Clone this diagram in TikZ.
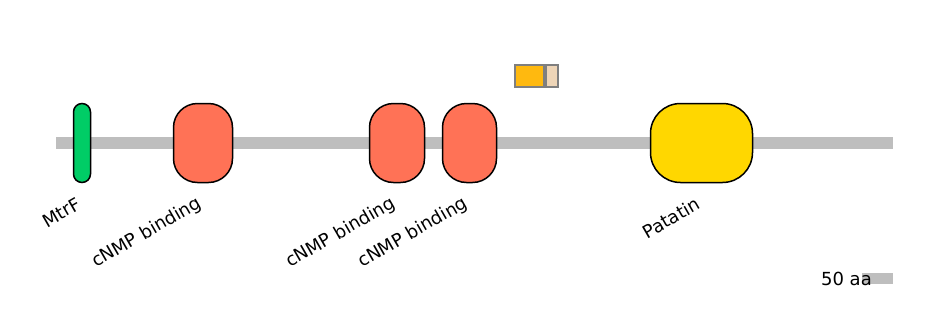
\documentclass[tikz,border=0pt]{standalone}
\usepackage{fontspec}
\setsansfont{DejaVu Sans}
\usepackage{tikz}
\usetikzlibrary{positioning}
\definecolor{pgrey}{HTML}{BEBEBE}
\definecolor{pgreen}{HTML}{00CD66}
\definecolor{pcoral}{HTML}{FF7256}
\definecolor{pgold}{HTML}{FFD700}
\definecolor{porange}{HTML}{FFB90F}
\definecolor{pbisque}{HTML}{EED5B7}
\definecolor{pframe}{HTML}{7F7F7F}

\begin{document}
\begin{tikzpicture}[
  x=1pt,y=-1pt,
  every node/.style={font=\sffamily\fontsize{18}{20}\selectfont},
  dom/.style={draw=black,line width=1.5pt,rounded corners=24pt,minimum height=79pt,inner sep=0pt},
  lbl/.style={anchor=east,rotate=30,inner sep=0pt},
  motif/.style={draw=pframe,line width=2pt,minimum height=22pt,inner sep=0pt},
  backbone/.style={pgrey,line width=12pt}
]
\useasboundingbox (0,0) rectangle (944,330);
% protein backbone
\coordinate (nterm) at (56,143);
\coordinate (cterm) at (893,143);
\draw[backbone] (nterm) -- (cterm);
% domains
\node[dom,fill=pgreen,minimum width=17pt,rounded corners=8.5pt] (mtrf) at (82,143) {};
\node[dom,fill=pcoral,minimum width=59pt] (cnmpa) at (203,143) {};
\node[dom,fill=pcoral,minimum width=55pt] (cnmpb) at (397,143) {};
\node[dom,fill=pcoral,minimum width=54pt] (cnmpc) at (469.5,143) {};
\node[dom,fill=pgold,minimum width=102pt,rounded corners=30pt] (patatin) at (701.5,143) {};
% labels
\node[lbl] (mtrf-l) at ([shift={(-3,19)}]mtrf.south) {MtrF};
\node[lbl] (cnmpa-l) at ([shift={(-3,19)}]cnmpa.south) {cNMP binding};
\node[lbl] (cnmpb-l) at ([shift={(-3,19)}]cnmpb.south) {cNMP binding};
\node[lbl] (cnmpc-l) at ([shift={(-3,19)}]cnmpc.south) {cNMP binding};
\node[lbl] (patatin-l) at ([shift={(-3,19)}]patatin.south) {Patatin};
% motif above the line
\node[motif,fill=porange,minimum width=29pt,anchor=north west] (motifa) at (514,64) {};
\node[motif,fill=pbisque,minimum width=12pt,anchor=west] (motifb) at (motifa.east) {};
% scale bar
\coordinate (bar-a) at (862,278);
\coordinate (bar-b) at (893,278);
\draw[pgrey,line width=11pt] (bar-a) -- (bar-b);
\node[anchor=base east,inner sep=0pt] (scale) at (872,285) {50 aa};
\end{tikzpicture}
\end{document}
